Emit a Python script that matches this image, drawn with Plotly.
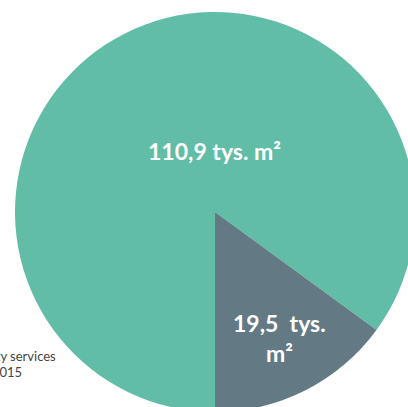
import plotly.graph_objects as go

categories = ["Powierzchnia A", "Powierzchnia B"]
values = [110.9, 19.5]
unit = "tys. m²"
source_lines = ["Źródło: property services", "2015"]

colors = ["#61BDA6", "#637983"]

def fmt(v):
    return f"{v:.1f}".replace(".", ",")

fig = go.Figure(go.Pie(
    labels=categories,
    values=values,
    sort=False,
    direction="clockwise",
    rotation=180,
    textinfo="none",
    hoverinfo="label+value",
    marker=dict(colors=colors, line=dict(width=0)),
    showlegend=False,
))

label_font = dict(family="Lato, Open Sans, sans-serif", size=23, color="white")
fig.add_annotation(x=0.4975, y=0.652, xref="paper", yref="paper", xanchor="center", yanchor="middle",
                   text=f"<b>{fmt(values[0])} {unit}</b>", showarrow=False, font=label_font)
fig.add_annotation(x=0.66, y=0.222, xref="paper", yref="paper", xanchor="center", yanchor="middle",
                   text=f"<b>{fmt(values[1])}\u00a0\u00a0{unit.split(' ')[0]}</b>", showarrow=False, font=label_font)
fig.add_annotation(x=0.66, y=0.1475, xref="paper", yref="paper", xanchor="center", yanchor="middle",
                   text=f"<b>{unit.split(' ')[1]}</b>", showarrow=False, font=label_font)

src_font = dict(family="Lato, Open Sans, sans-serif", size=13, color="#444444")
fig.add_annotation(x=0.1075, y=0.14, xref="paper", yref="paper", xanchor="right", yanchor="middle",
                   text=source_lines[0], showarrow=False, font=src_font)
fig.add_annotation(x=0.0225, y=0.10, xref="paper", yref="paper", xanchor="right", yanchor="middle",
                   text=source_lines[1], showarrow=False, font=src_font)

fig.update_layout(
    width=430, height=424,
    margin=dict(l=15, r=15, t=12, b=12),
    paper_bgcolor="white",
    plot_bgcolor="white",
)

fig.write_html("out.html", config={"displayModeBar": False},
               post_script="document.body.style.margin='0';document.body.style.overflow='hidden';document.documentElement.style.overflow='hidden';")
